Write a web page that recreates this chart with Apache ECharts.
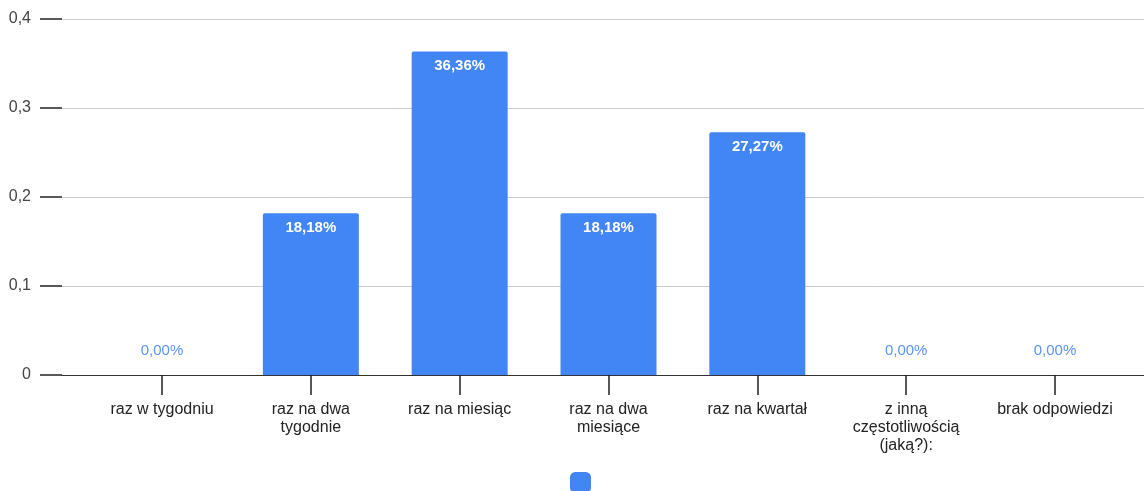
<!DOCTYPE html>
<html>
<head>
<meta charset="utf-8">
<script src="https://cdn.jsdelivr.net/npm/echarts@6/dist/echarts.min.js"></script>
<style>html,body{margin:0;padding:0;background:#fff}#c{width:1144px;height:491px}</style>
</head>
<body>
<div id="c"></div>
<script>
const categories = ['raz w tygodniu','raz na dwa\ntygodnie','raz na miesiąc','raz na dwa\nmiesiące','raz na kwartał','z inną\nczęstotliwością\n(jaką?):','brak odpowiedzi'];
const values = [0, 0.1818, 0.3636, 0.1818, 0.2727, 0, 0];
const valueLabels = ['0,00%','18,18%','36,36%','18,18%','27,27%','0,00%','0,00%'];
const seriesName = 'Odpowiedzi';

const chart = echarts.init(document.getElementById('c'), null, {renderer:'canvas'});
const font = 'Arial, "Liberation Sans", sans-serif';
const blue = '#4285f4';
const data = values.map((v,i) => {
  const d = {value: v};
  if (v === 0) {
    d.label = {position:'top', distance:17, color: '#5a95f7', fontWeight:'normal'};
  }
  return d;
});
chart.setOption({
  animation:false,
  legend:{
    data:[seriesName], left:570, top:472, itemWidth:21, itemHeight:21, icon:'roundRect',
    formatter:()=>'', itemGap:0, padding:0
  },
  grid:[
    {left:62, right:0, top:19, bottom:116},
    {left:87.6, width:1041.8, top:19, bottom:116}
  ],
  xAxis:[
    {gridIndex:0, type:'category', data:categories, axisLabel:{show:false}, axisTick:{show:false},
     axisLine:{lineStyle:{color:'#333', width:1.2}}},
    {gridIndex:1, type:'category', data:categories,
     axisLine:{show:false},
     axisTick:{show:true, alignWithLabel:true, length:20, lineStyle:{color:'#222', width:1.5}},
     axisLabel:{interval:0, margin:26, color:'#222', fontSize:16, fontFamily:font, lineHeight:18, align:'center'}}
  ],
  yAxis:[
    {gridIndex:0, type:'value', min:0, max:0.4, interval:0.1,
     axisLine:{show:false},
     axisTick:{show:true, length:22, lineStyle:{color:'#222', width:1.5}},
     splitLine:{lineStyle:{color:'#ccc', width:1}},
     axisLabel:{margin:31, color:'#444', fontSize:16, fontFamily:font,
       formatter:v => v===0 ? '0' : (Math.round(v*10)/10).toString().replace('.',',')}},
    {gridIndex:1, type:'value', min:0, max:0.4, interval:0.1, show:false, splitLine:{show:false}}
  ],
  series:[{
    name:seriesName, type:'bar', xAxisIndex:1, yAxisIndex:1, data:data,
    barWidth:'64.5%', itemStyle:{color:blue, borderRadius:[2,2,0,0]},
    label:{show:true, position:'insideTop', distance:7, color:'#fff', fontSize:15, fontWeight:'bold', fontFamily:font,
      formatter:p => valueLabels[p.dataIndex]}
  }]
});
</script>
</body>
</html>
